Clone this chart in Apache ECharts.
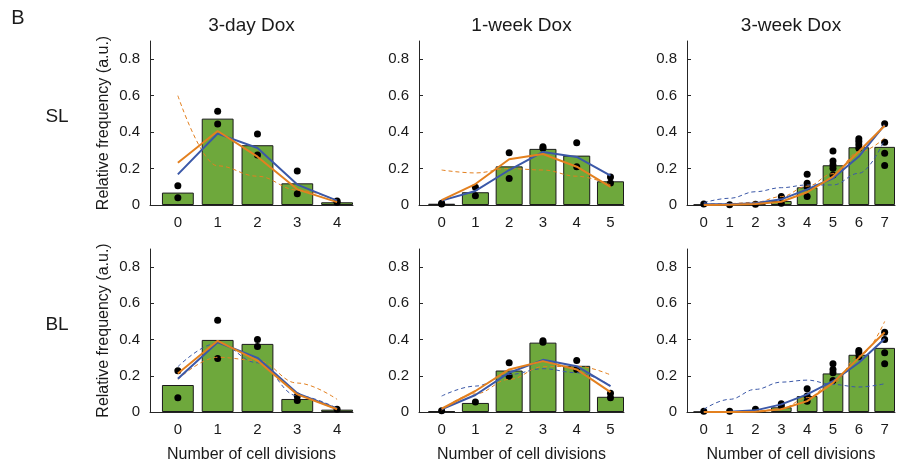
<!DOCTYPE html>
<html>
<head>
<meta charset="utf-8">
<script src="https://cdn.jsdelivr.net/npm/echarts@6/dist/echarts.min.js"></script>
<style>html,body{margin:0;padding:0;background:#fff}#c{width:904px;height:468px}</style>
</head>
<body>
<div id="c"></div>
<script>
// ---------- data ----------
const cellDivisions3d = [0, 1, 2, 3, 4];
const cellDivisions1w = [0, 1, 2, 3, 4, 5];
const cellDivisions3w = [0, 1, 2, 3, 4, 5, 6, 7];
const yTickValues = [0, 0.2, 0.4, 0.6, 0.8];
const colTitles = ['3-day Dox', '1-week Dox', '3-week Dox'];
const rowLabels = ['SL', 'BL'];
const panelLetter = 'B';
const yAxisTitle = 'Relative frequency (a.u.)';
const xAxisTitle = 'Number of cell divisions';

// SL, 3-day Dox
const sl3dBars = [0.068, 0.474, 0.328, 0.119, 0.015];
const sl3dDots = [[0.106, 0.040], [0.514, 0.445], [0.390, 0.275], [0.187, 0.062], [0.022, 0.015]];
const sl3dBlue = [0.168, 0.392, 0.313, 0.112, 0.024];
const sl3dOrange = [0.232, 0.406, 0.265, 0.086, 0.016];
const sl3dBlueDash = [];
const sl3dOrangeDash = [0.600, 0.215, 0.158, 0.082, 0.025];

// SL, 1-week Dox
const sl1wBars = [0.007, 0.070, 0.212, 0.308, 0.271, 0.130];
const sl1wDots = [[0.010, 0.006], [0.097, 0.051], [0.287, 0.146], [0.320, 0.311], [0.342, 0.210], [0.154, 0.121]];
const sl1wBlue = [0.024, 0.077, 0.192, 0.291, 0.264, 0.161];
const sl1wOrange = [0.027, 0.115, 0.251, 0.280, 0.210, 0.100];
const sl1wBlueDash = [];
const sl1wOrangeDash = [0.192, 0.176, 0.200, 0.192, 0.158, 0.110];

// SL, 3-week Dox
const sl3wBars = [0.002, 0.001, 0.007, 0.022, 0.097, 0.218, 0.317, 0.319];
const sl3wDots = [[0.005], [0.002], [0.004], [0.046, 0.010], [0.169, 0.119, 0.100, 0.046],
  [0.297, 0.242, 0.220, 0.202, 0.165], [0.363, 0.349, 0.330, 0.312], [0.446, 0.345, 0.284, 0.217]];
const sl3wBlue = [0.004, 0.004, 0.010, 0.031, 0.086, 0.147, 0.266, 0.440];
const sl3wOrange = [0.000, 0.001, 0.005, 0.018, 0.070, 0.156, 0.294, 0.435];
const sl3wBlueDash = [0.013, 0.037, 0.073, 0.095, 0.110, 0.110, 0.174, 0.358];
const sl3wOrangeDash = [0.004, 0.008, 0.015, 0.046, 0.103, 0.172, 0.290, 0.368];

// BL, 3-day Dox
const bl3dBars = [0.149, 0.398, 0.376, 0.072, 0.013];
const bl3dDots = [[0.228, 0.079], [0.506, 0.295], [0.400, 0.361], [0.088, 0.064], [0.015]];
const bl3dBlue = [0.183, 0.385, 0.299, 0.103, 0.018];
const bl3dOrange = [0.213, 0.393, 0.284, 0.097, 0.015];
const bl3dBlueDash = [0.250, 0.380, 0.272, 0.090, 0.020];
const bl3dOrangeDash = [0.180, 0.302, 0.285, 0.160, 0.070];

// BL, 1-week Dox
const bl1wBars = [0.004, 0.050, 0.229, 0.383, 0.255, 0.084];
const bl1wDots = [[0.007], [0.055], [0.272, 0.198], [0.394, 0.385], [0.284, 0.235], [0.103, 0.079]];
const bl1wBlue = [0.015, 0.094, 0.217, 0.288, 0.253, 0.143];
const bl1wOrange = [0.018, 0.116, 0.235, 0.281, 0.235, 0.110];
const bl1wBlueDash = [0.088, 0.143, 0.207, 0.239, 0.217, 0.145];
const bl1wOrangeDash = [0.011, 0.100, 0.180, 0.250, 0.253, 0.205];

// BL, 3-week Dox
const bl3wBars = [0.001, 0.001, 0.004, 0.026, 0.088, 0.213, 0.316, 0.354];
const bl3wDots = [[0.004], [0.004], [0.015], [0.046, 0.033], [0.128, 0.088, 0.060],
  [0.266, 0.235, 0.217, 0.174], [0.340, 0.327, 0.305], [0.440, 0.400, 0.327, 0.266]];
const bl3wBlue = [0.000, 0.002, 0.009, 0.042, 0.097, 0.170, 0.272, 0.404];
const bl3wOrange = [0.000, 0.000, 0.002, 0.015, 0.060, 0.161, 0.299, 0.440];
const bl3wBlueDash = [0.015, 0.070, 0.125, 0.165, 0.176, 0.152, 0.138, 0.156];
const bl3wOrangeDash = [0.000, 0.000, 0.003, 0.018, 0.079, 0.161, 0.308, 0.500];

// ---------- layout / style ----------
const FONT = '"Liberation Sans", Arial, Helvetica, sans-serif';
const TXT = '#1a1a1a';
const GREEN = '#6ea83c';
const BLUE = '#3b58a8';
const ORANGE = '#e3801f';
const cols = [
  {left: 150, width: 203, xmin: -0.7, xmax: 4.4, cats: cellDivisions3d},
  {left: 419, width: 205, xmin: -0.67, xmax: 5.4, cats: cellDivisions1w},
  {left: 687, width: 208, xmin: -0.65, xmax: 7.4, cats: cellDivisions3w}
];
const rows = [{top: 41, height: 164}, {top: 249, height: 163}];
const panels = [
  [0, 0, sl3dBars, sl3dDots, sl3dBlue, sl3dOrange, sl3dBlueDash, sl3dOrangeDash],
  [0, 1, sl1wBars, sl1wDots, sl1wBlue, sl1wOrange, sl1wBlueDash, sl1wOrangeDash],
  [0, 2, sl3wBars, sl3wDots, sl3wBlue, sl3wOrange, sl3wBlueDash, sl3wOrangeDash],
  [1, 0, bl3dBars, bl3dDots, bl3dBlue, bl3dOrange, bl3dBlueDash, bl3dOrangeDash],
  [1, 1, bl1wBars, bl1wDots, bl1wBlue, bl1wOrange, bl1wBlueDash, bl1wOrangeDash],
  [1, 2, bl3wBars, bl3wDots, bl3wBlue, bl3wOrange, bl3wBlueDash, bl3wOrangeDash]
];

const grid = [], xAxis = [], yAxis = [], series = [], graphic = [];
panels.forEach((p, i) => {
  const [r, c, bars, dots, blue, orange, blueDash, orangeDash] = p;
  const col = cols[c], row = rows[r];
  const cats = col.cats;
  grid.push({left: col.left, top: row.top, width: col.width, height: row.height});
  xAxis.push({
    type: 'value', gridIndex: i, min: col.xmin, max: col.xmax,
    name: r === 1 ? xAxisTitle : '', nameLocation: 'middle', nameGap: 35,
    nameTextStyle: {fontFamily: FONT, fontSize: 16, color: TXT},
    axisLine: {show: true, onZero: false, lineStyle: {color: '#262626', width: 1}},
    axisTick: {show: true, inside: true, length: 3, customValues: cats, lineStyle: {color: '#262626'}},
    axisLabel: {customValues: cats, margin: 10, fontFamily: FONT, fontSize: 15, color: TXT,
      formatter: v => String(Math.round(v))},
    splitLine: {show: false}
  });
  yAxis.push({
    type: 'value', gridIndex: i, min: 0, max: 0.9,
    name: c === 0 ? yAxisTitle : '', nameLocation: 'middle', nameGap: 38,
    nameTextStyle: {fontFamily: FONT, fontSize: 16, color: TXT},
    axisLine: {show: true, onZero: false, lineStyle: {color: '#262626', width: 1}},
    axisTick: {show: true, inside: true, length: 4, customValues: yTickValues, lineStyle: {color: '#262626'}},
    axisLabel: {customValues: yTickValues, margin: 10, fontFamily: FONT, fontSize: 15, color: TXT,
      formatter: v => v === 0 ? '0' : v.toFixed(1)},
    splitLine: {show: false}
  });
  const unit = col.width / (col.xmax - col.xmin);
  series.push({
    type: 'bar', xAxisIndex: i, yAxisIndex: i, barWidth: 0.8 * unit, z: 1,
    itemStyle: {color: GREEN, borderColor: '#1a1a1a', borderWidth: 1},
    silent: true, animation: false,
    data: cats.map((x, k) => [x, bars[k]])
  });
  const dotData = [];
  dots.forEach((list, k) => list.forEach(v => dotData.push([cats[k], v])));
  series.push({
    type: 'scatter', xAxisIndex: i, yAxisIndex: i, symbolSize: 7, z: 3,
    itemStyle: {color: '#000', opacity: 1}, animation: false, data: dotData
  });
  const addLine = (vals, color, dashed) => {
    if (!vals || !vals.length) return;
    series.push({
      type: 'line', xAxisIndex: i, yAxisIndex: i, symbol: 'none', z: dashed ? 4 : 5,
      smooth: dashed ? 0.4 : false, smoothMonotone: 'x', animation: false,
      lineStyle: dashed ? {color, width: 1, type: [4, 3]} : {color, width: 2},
      data: cats.map((x, k) => [x, vals[k]])
    });
  };
  addLine(blueDash, BLUE, true);
  addLine(orangeDash, ORANGE, true);
  addLine(blue, BLUE, false);
  addLine(orange, ORANGE, false);
});

cols.forEach((col, c) => {
  graphic.push({type: 'text', x: col.left + col.width / 2, y: 26,
    style: {text: colTitles[c], font: '19px ' + FONT, fill: TXT, textAlign: 'center', textVerticalAlign: 'middle'}});
});
graphic.push({type: 'text', x: 57, y: 117,
  style: {text: rowLabels[0], font: '19px ' + FONT, fill: TXT, textAlign: 'center', textVerticalAlign: 'middle'}});
graphic.push({type: 'text', x: 57, y: 325,
  style: {text: rowLabels[1], font: '19px ' + FONT, fill: TXT, textAlign: 'center', textVerticalAlign: 'middle'}});
graphic.push({type: 'text', x: 18, y: 18,
  style: {text: panelLetter, font: '20px ' + FONT, fill: TXT, textAlign: 'center', textVerticalAlign: 'middle'}});

const chart = echarts.init(document.getElementById('c'), null, {renderer: 'canvas'});
chart.setOption({animation: false, backgroundColor: '#fff', grid, xAxis, yAxis, series, graphic});
</script>
</body>
</html>
